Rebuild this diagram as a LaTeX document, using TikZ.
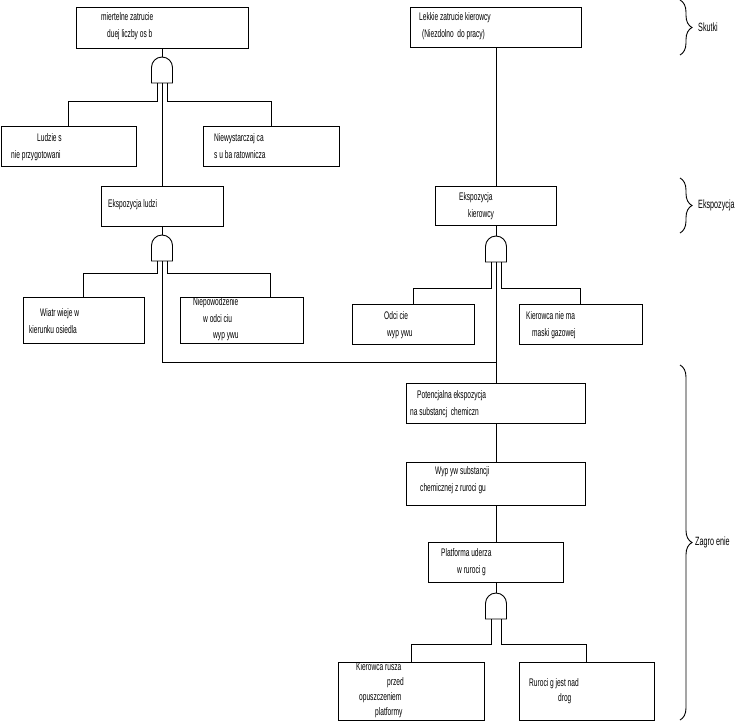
\documentclass[tikz,border=0pt]{standalone}
\usepackage{fontspec}
\setmainfont{Liberation Sans}[FakeStretch=0.6]
\usepackage{tikz}
\usetikzlibrary{decorations.pathreplacing}

\begin{document}
\begin{tikzpicture}[x=1pt, y=-1pt,%
  box/.style={draw, line width=0.9pt, inner sep=0pt},%
  txt/.style={anchor=north west, inner sep=0pt, align=left, font=\fontsize{11}{16.5}\selectfont},%
  wire/.style={line width=0.9pt},%
  brc/.style={decorate, decoration={brace, amplitude=12pt}, line width=0.9pt},%
  lvl/.style={anchor=west, inner sep=0pt, font=\fontsize{12}{14}\selectfont},%
  andgate/.pic={%
    \draw[line width=0.9pt] (-10.5,26) -- (-10.5,10.5) arc (180:360:10.5) -- (10.5,26) -- cycle;
    \coordinate (-top) at (0,0);
    \coordinate (-l) at (-5,26);
    \coordinate (-m) at (0,26);
    \coordinate (-r) at (5,26);
  }%
]
  \useasboundingbox (0,0) rectangle (740,721);
  % Skutki
  \node[box, minimum width=172, minimum height=41] (A) at (162,27.5) {};
  \node[txt] (tA) at (101,12.5) {miertelne zatrucie\\\hspace*{6pt}duej liczby os b};
  \node[box, minimum width=171, minimum height=40] (G) at (496,27) {};
  \node[txt] (tG) at (419,12.5) {Lekkie zatrucie kierowcy\\\hspace*{3pt}(Niezdolno\ \ do pracy)};
  \pic (gA) at (162,57) {andgate};
  \node[box, minimum width=135, minimum height=40] (B) at (68.5,146) {};
  \node[txt] (tB) at (11,133.5) {\hspace*{26pt}Ludzie s\\nie przygotowani};
  \node[box, minimum width=136, minimum height=40] (C) at (271,146) {};
  \node[txt] (tC) at (214,133.5) {Niewystarczaj ca\\s u ba ratownicza};
  % Ekspozycja
  \node[box, minimum width=122, minimum height=40] (D) at (162,206) {};
  \node[txt] (tD) at (108,199.5) {Ekspozycja ludzi};
  \node[box, minimum width=121, minimum height=39] (H) at (496,205.5) {};
  \node[txt] (tH) at (459,192.5) {Ekspozycja\\\hspace*{9pt}kierowcy};
  \pic (gB) at (162,235) {andgate};
  \pic (gC) at (496,236) {andgate};
  \node[box, minimum width=121, minimum height=46] (E) at (83.5,320) {};
  \node[txt] (tE) at (29,308.5) {\hspace*{11pt}Wiatr wieje w\\kierunku osiedla};
  \node[box, minimum width=123, minimum height=46] (F) at (241.5,320) {};
  \node[txt] (tF) at (193,297.5) {Niepowodzenie\\\hspace*{10pt}w odci ciu\\\hspace*{20pt}wyp ywu};
  \node[box, minimum width=122, minimum height=40] (I) at (413,324) {};
  \node[txt] (tI) at (384,311.5) {Odci cie\\\hspace*{3pt}wyp ywu};
  \node[box, minimum width=123, minimum height=40] (J) at (580.5,324) {};
  \node[txt] (tJ) at (526,311.5) {Kierowca nie ma\\\hspace*{6pt}maski gazowej};
  % Zagrozenie
  \node[box, minimum width=179, minimum height=40] (K) at (496,403) {};
  \node[txt] (tK) at (410,390.5) {\hspace*{7pt}Potencjalna ekspozycja\\na substancj\ \ chemiczn};
  \node[box, minimum width=179, minimum height=43] (L) at (496,483.5) {};
  \node[txt] (tL) at (420,466.5) {\hspace*{15pt}Wyp yw substancji\\chemicznej z ruroci gu};
  \node[box, minimum width=135, minimum height=40] (M) at (496,562) {};
  \node[txt] (tM) at (441,548.5) {Platforma uderza\\\hspace*{16pt}w ruroci g};
  \pic (gD) at (496,593) {andgate};
  \node[box, minimum width=146, minimum height=58] (N) at (411,691) {};
  \node[txt, font=\fontsize{11}{15}\selectfont] (tN) at (356,662.5) {Kierowca rusza\\\hspace*{31pt}przed\\\hspace*{3pt}opuszczeniem\\\hspace*{19pt}platformy};
  \node[box, minimum width=135, minimum height=58] (O) at (586.5,691) {};
  \node[txt, font=\fontsize{11}{15}\selectfont] (tO) at (529,678.5) {Ruroci g jest nad\\\hspace*{29pt}drog};
  \coordinate (join) at (496,362);
  % polaczenia
  \draw[wire] (A.south) -- (gA-top);
  \draw[wire] (gA-l) -- ++(0,18) -| (B.north);
  \draw[wire] (gA-r) -- ++(0,18) -| (C.north);
  \draw[wire] (gA-m) -- (D.north);
  \draw[wire] (D.south) -- (gB-top);
  \draw[wire] (gB-l) -- ++(0,12) -| (E.north);
  \draw[wire] (gB-r) -- ++(0,12) -| ([xshift=28.5pt]F.north);
  \draw[wire] (gB-m) |- (join);
  \draw[wire] (G.south) -- (H.north);
  \draw[wire] (H.south) -- (gC-top);
  \draw[wire] (gC-l) -- ++(0,26) -| (I.north);
  \draw[wire] (gC-r) -- ++(0,26) -| (J.north);
  \draw[wire] (gC-m) -- (K.north);
  \draw[wire] (K.south) -- (L.north);
  \draw[wire] (L.south) -- (M.north);
  \draw[wire] (M.south) -- (gD-top);
  \draw[wire] (gD-l) -- ++(0,25) -| (N.north);
  \draw[wire] (gD-r) -- ++(0,25) -| (O.north);
  % klamry
  \draw[brc] (680,0) -- (680,55);
  \node[lvl] (lS) at (698,27.5) {Skutki};
  \draw[brc] (680,178) -- (680,233);
  \node[lvl] (lE) at (698,205.5) {Ekspozycja};
  \draw[brc] (680,365) -- (680,720);
  \node[lvl] (lZ) at (695,542) {Zagro enie};
\end{tikzpicture}
\end{document}
